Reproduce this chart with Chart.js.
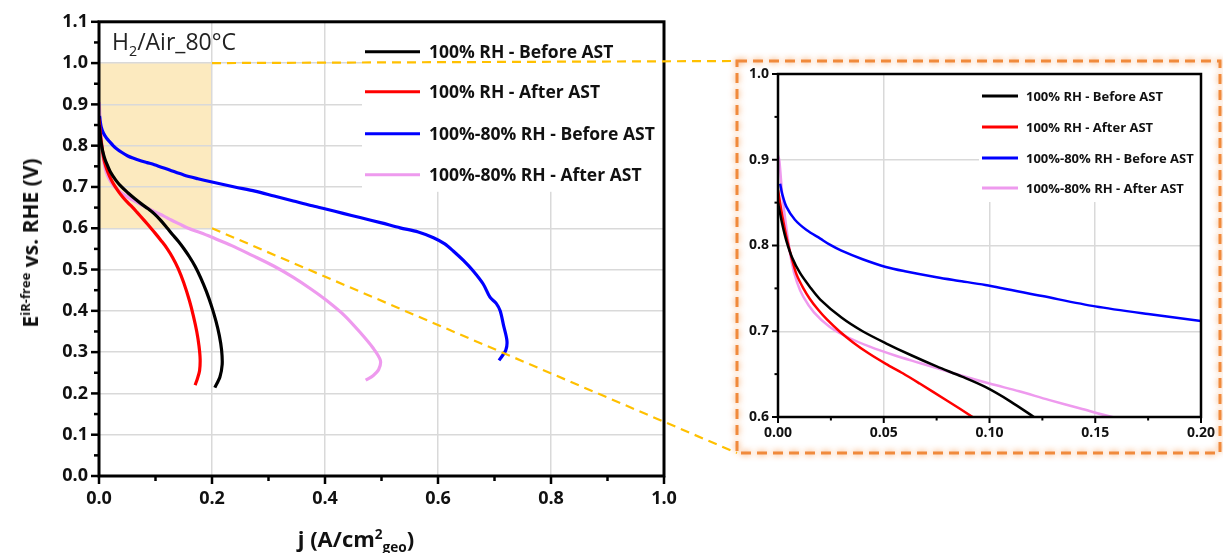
<!DOCTYPE html>
<html>
<head>
<meta charset="utf-8">
<title>Polarization curves before / after AST</title>
<script src="https://cdn.jsdelivr.net/npm/chart.js"></script>
<style>
  body { margin: 0; background: #fff; font-family: "Open Sans", sans-serif; }
  #wrap { position: relative; width: 1223px; height: 553px; overflow: hidden; }
  #main { position: absolute; left: 0; top: 0; }
  #inset { position: absolute; left: 725px; top: 50px; }
  .lbl { position: absolute; white-space: nowrap; color: #111; }
  #ytitle { font: bold 21px "Open Sans", sans-serif; left: 30px; top: 243px; transform: translate(-50%, -50%) rotate(-90deg); }
  #xtitle { font: bold 22px "Open Sans", sans-serif; left: 356px; top: 523px; transform: translateX(-50%); }
  #cond { font: 23px "Open Sans", sans-serif; left: 112px; top: 25px; color: #222; }
  sup, sub { font-size: 62%; }
  #ytitle sup { vertical-align: 0.6em; }
  #xtitle sub { vertical-align: -0.35em; }
</style>
</head>
<body>
<div id="wrap">
  <canvas id="main" width="1223" height="553"></canvas>
  <canvas id="inset" width="498" height="415"></canvas>
  <div class="lbl" id="cond">H<sub>2</sub>/Air_80°C</div>
  <div class="lbl" id="ytitle">E<sup>iR-free</sup> vs. RHE (V)</div>
  <div class="lbl" id="xtitle">j (A/cm<sup>2</sup><sub>geo</sub>)</div>
</div>
<script>
// series labels and colours
var seriesNames = ['100% RH - Before AST', '100% RH - After AST', '100%-80% RH - Before AST', '100%-80% RH - After AST'];
var seriesColors = ['#000000', '#ff0000', '#0000ff', '#ee9aee'];

// current density j (A/cm2) and iR-free potential (V)
var jBefore100 = [0.000, 0.002, 0.004, 0.0065, 0.0104, 0.015, 0.020, 0.030, 0.040, 0.051, 0.063, 0.075, 0.087, 0.098, 0.110, 0.121,
                  0.130, 0.140, 0.150, 0.160, 0.170, 0.180, 0.190, 0.199, 0.207, 0.213, 0.217, 0.218, 0.214, 0.205];
var vBefore100 = [0.850, 0.825, 0.805, 0.787, 0.768, 0.752, 0.737, 0.716, 0.700, 0.686, 0.672, 0.659, 0.647, 0.635, 0.618, 0.600,
                  0.585, 0.569, 0.551, 0.531, 0.508, 0.480, 0.447, 0.412, 0.375, 0.340, 0.305, 0.270, 0.240, 0.214];

var jAfter100 = [0.000, 0.002, 0.004, 0.0065, 0.0088, 0.012, 0.015, 0.019, 0.023, 0.029, 0.0355, 0.043, 0.051, 0.059, 0.067, 0.080, 0.092,
                 0.100, 0.110, 0.120, 0.130, 0.140, 0.150, 0.160, 0.167, 0.173, 0.177, 0.179, 0.178, 0.174, 0.170];
var vAfter100 = [0.865, 0.835, 0.810, 0.785, 0.766, 0.750, 0.738, 0.725, 0.714, 0.700, 0.687, 0.674, 0.662, 0.651, 0.639, 0.619, 0.600,
                 0.587, 0.570, 0.552, 0.530, 0.503, 0.468, 0.425, 0.388, 0.350, 0.315, 0.283, 0.255, 0.235, 0.220];

var jBefore80 = [0.001, 0.002, 0.004, 0.008, 0.0135, 0.020, 0.0245, 0.030, 0.040, 0.051, 0.060, 0.075, 0.085, 0.098, 0.125, 0.150, 0.175,
                 0.200, 0.240, 0.276, 0.310, 0.344, 0.375, 0.403, 0.432, 0.462, 0.500, 0.533, 0.565, 0.592, 0.612, 0.627, 0.645,
                 0.662, 0.680, 0.692, 0.703, 0.710, 0.716, 0.722, 0.720, 0.708];
var vBefore80 = [0.872, 0.860, 0.845, 0.830, 0.818, 0.808, 0.801, 0.794, 0.784, 0.775, 0.770, 0.763, 0.759, 0.754, 0.741, 0.729, 0.720,
                 0.712, 0.700, 0.690, 0.678, 0.666, 0.655, 0.646, 0.636, 0.626, 0.613, 0.601, 0.591, 0.577, 0.562, 0.545, 0.522,
                 0.497, 0.465, 0.433, 0.418, 0.400, 0.365, 0.328, 0.305, 0.280];

var jAfter80 = [0.000, 0.0006, 0.002, 0.004, 0.0065, 0.009, 0.012, 0.017, 0.0245, 0.033, 0.0434, 0.055, 0.067, 0.083, 0.100, 0.114,
                0.128, 0.143, 0.158, 0.180, 0.200, 0.235, 0.270, 0.310, 0.344, 0.375, 0.403, 0.435, 0.462, 0.485, 0.498, 0.495, 0.485, 0.472];
var vAfter80 = [0.905, 0.900, 0.860, 0.820, 0.780, 0.757, 0.740, 0.722, 0.705, 0.693, 0.682, 0.672, 0.663, 0.651, 0.639, 0.630,
                0.620, 0.610, 0.600, 0.589, 0.578, 0.558, 0.535, 0.508, 0.481, 0.453, 0.425, 0.388, 0.348, 0.310, 0.280, 0.258, 0.243, 0.232];

// axis ticks
var mainXTicks = [0, 1.0, 0.2];     // min, max, major step
var mainYTicks = [0, 1.1, 0.1];
var insetXTicks = [0, 0.20, 0.05];
var insetYTicks = [0.6, 1.0, 0.1];
var zoomBox = {x0: 0, x1: 0.2, y0: 0.6, y1: 1.0};

function pts(js, vs) {
  return js.map(function (j, i) { return {x: j, y: vs[i]}; });
}
var allJ = [jBefore100, jAfter100, jBefore80, jAfter80];
var allV = [vBefore100, vAfter100, vBefore80, vAfter80];

function makeDatasets(width) {
  return seriesNames.map(function (name, i) {
    return {
      label: name,
      data: pts(allJ[i], allV[i]),
      borderColor: seriesColors[i],
      borderWidth: width,
      showLine: true,
      pointRadius: 0,
      tension: 0.3,
      fill: false,
      clip: 0
    };
  });
}

// frame + outward ticks (major and minor)
function drawFrame(chart, lw, majLen, minLen) {
  var ctx = chart.ctx, a = chart.chartArea, sx = chart.scales.x, sy = chart.scales.y;
  ctx.save();
  ctx.strokeStyle = '#000';
  ctx.lineWidth = lw;
  var step = sx.options.ticks.stepSize / 2;
  var n = Math.round((sx.max - sx.min) / step);
  for (var i = 0; i <= n; i++) {
    var p = sx.getPixelForValue(sx.min + i * step);
    ctx.beginPath();
    ctx.moveTo(p, a.bottom);
    ctx.lineTo(p, a.bottom + (i % 2 ? minLen : majLen));
    ctx.stroke();
  }
  step = sy.options.ticks.stepSize / 2;
  n = Math.round((sy.max - sy.min) / step);
  for (i = 0; i <= n; i++) {
    p = sy.getPixelForValue(sy.min + i * step);
    ctx.beginPath();
    ctx.moveTo(a.left, p);
    ctx.lineTo(a.left - (i % 2 ? minLen : majLen), p);
    ctx.stroke();
  }
  ctx.lineWidth = lw + 0.5;
  ctx.strokeRect(a.left, a.top, a.right - a.left, a.bottom - a.top);
  ctx.restore();
}

function drawLegend(chart, box, font, x0, x1, tx, rows) {
  var ctx = chart.ctx;
  ctx.save();
  ctx.fillStyle = '#fff';
  ctx.fillRect(box[0], box[1], box[2], box[3]);
  ctx.font = font;
  ctx.textBaseline = 'middle';
  chart.data.datasets.forEach(function (ds, i) {
    ctx.strokeStyle = ds.borderColor;
    ctx.lineWidth = 3;
    ctx.beginPath();
    ctx.moveTo(x0, rows[i]);
    ctx.lineTo(x1, rows[i]);
    ctx.stroke();
    ctx.fillStyle = '#111';
    ctx.fillText(ds.label, tx, rows[i] + 1);
  });
  ctx.restore();
}

// where the inset frame sits on the page
var insetLeft = 725, insetTop = 50;
var frameBox = {left: 737, top: 61, right: 1220, bottom: 453};

var mainPlugin = {
  id: 'mainDeco',
  beforeDraw: function (chart) {
    var ctx = chart.ctx, sx = chart.scales.x, sy = chart.scales.y;
    ctx.save();
    ctx.fillStyle = 'rgba(250, 214, 128, 0.5)';
    var l = sx.getPixelForValue(zoomBox.x0), r = sx.getPixelForValue(zoomBox.x1);
    var t = sy.getPixelForValue(zoomBox.y1), b = sy.getPixelForValue(zoomBox.y0);
    ctx.fillRect(l, t, r - l, b - t);
    ctx.restore();
  },
  afterDraw: function (chart) {
    var a = chart.chartArea, ctx = chart.ctx, sx = chart.scales.x, sy = chart.scales.y;
    drawLegend(chart, [a.right - 302, a.top, 302, 170], 'bold 17.5px "Open Sans"',
      a.right - 299, a.right - 244, a.right - 235, [a.top + 30, a.top + 70, a.top + 112, a.top + 153]);
    drawFrame(chart, 2.5, 8, 5);
    // dashed leader lines to the zoomed panel
    ctx.save();
    ctx.strokeStyle = '#ffc000';
    ctx.lineWidth = 2.2;
    ctx.setLineDash([9, 6]);
    var px = sx.getPixelForValue(zoomBox.x1);
    ctx.beginPath();
    ctx.moveTo(px, sy.getPixelForValue(zoomBox.y1));
    ctx.lineTo(frameBox.left, frameBox.top);
    ctx.moveTo(px, sy.getPixelForValue(zoomBox.y0));
    ctx.lineTo(frameBox.left, frameBox.bottom);
    ctx.stroke();
    ctx.restore();
  }
};

var insetPlugin = {
  id: 'insetDeco',
  afterDraw: function (chart) {
    var a = chart.chartArea, ctx = chart.ctx;
    drawLegend(chart, [a.right - 222, a.top + 1, 221, 127], 'bold 13px "Open Sans"',
      a.right - 219, a.right - 183, a.right - 175, [a.top + 22, a.top + 53, a.top + 84, a.top + 114]);
    drawFrame(chart, 2, 6, 3.5);
    // glowing orange dashed frame
    ctx.save();
    ctx.strokeStyle = '#f08a3c';
    ctx.lineWidth = 3;
    ctx.setLineDash([10, 6]);
    ctx.shadowColor = 'rgba(245, 140, 60, 0.9)';
    ctx.shadowBlur = 6;
    ctx.strokeRect(frameBox.left - insetLeft, frameBox.top - insetTop,
      frameBox.right - frameBox.left, frameBox.bottom - frameBox.top);
    ctx.restore();
  }
};

function axis(t, digits, font, pad, fitW, fitH) {
  var o = {
    type: 'linear', min: t[0], max: t[1],
    border: {display: false},
    grid: {color: '#d9d9d9', lineWidth: 1.5, drawTicks: false},
    ticks: {
      stepSize: t[2], autoSkip: false, padding: pad, color: '#111',
      font: {family: 'Open Sans', weight: 'bold', size: font},
      callback: function (v) { return Number(v).toFixed(digits); }
    }
  };
  if (fitW) o.afterFit = function (s) { s.width = fitW; };
  if (fitH) o.afterFit = function (s) { s.height = fitH; };
  return o;
}

new Chart(document.getElementById('main'), {
  type: 'scatter',
  data: {datasets: makeDatasets(3.2)},
  options: {
    responsive: false, animation: false,
    layout: {padding: {left: 0, top: 20, right: 559, bottom: 0}},
    plugins: {legend: {display: false}, tooltip: {enabled: false}},
    scales: {
      x: axis(mainXTicks, 1, 18, 12, 0, 77),
      y: axis(mainYTicks, 1, 18, 11, 99, 0)
    }
  },
  plugins: [mainPlugin]
});

new Chart(document.getElementById('inset'), {
  type: 'scatter',
  data: {datasets: makeDatasets(2.5)},
  options: {
    responsive: false, animation: false,
    layout: {padding: {left: 0, top: 24, right: 21, bottom: 0}},
    plugins: {legend: {display: false}, tooltip: {enabled: false}},
    scales: {
      x: axis(insetXTicks, 2, 14, 8, 0, 48),
      y: axis(insetYTicks, 1, 14, 9, 53, 0)
    }
  },
  plugins: [insetPlugin]
});
</script>
</body>
</html>
